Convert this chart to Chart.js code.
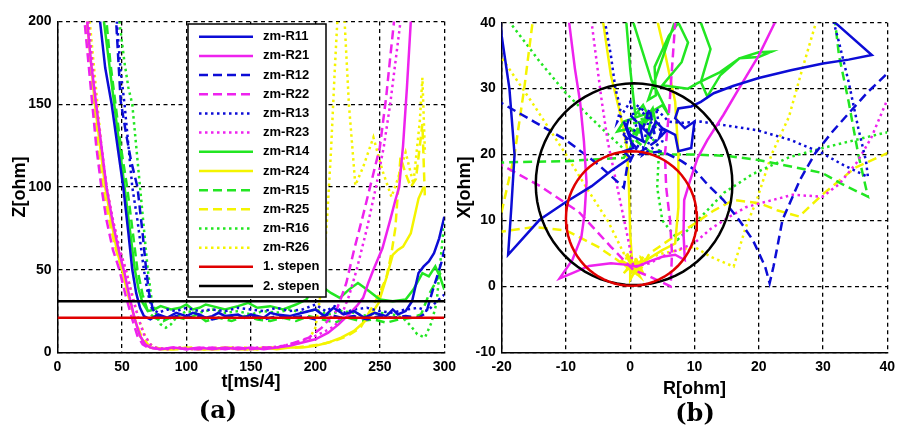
<!DOCTYPE html>
<html>
<head>
<meta charset="utf-8">
<script src="https://cdn.jsdelivr.net/npm/chart.js@4.4.1/dist/chart.umd.min.js"></script>
<style>
    html, body { margin: 0; padding: 0; background: #fff; }
    #wrap { position: relative; width: 901px; height: 426px; overflow: hidden; }
    #leftChart { position: absolute; left: 0; top: 0; }
    #rightChart { position: absolute; left: 440px; top: 0; }
    .sub { position: absolute; font-family: "DejaVu Serif", "Liberation Serif", serif; font-weight: bold; font-size: 24px; line-height: 24px; transform: translateX(-50%); color: #000; }
</style>
</head>
<body>
<div id="wrap">
    <canvas id="leftChart" width="462" height="426"></canvas>
    <canvas id="rightChart" width="461" height="426"></canvas>
    <div class="sub" style="left:218px; top:398px;">(a)</div>
    <div class="sub" style="left:695px; top:401px;">(b)</div>
</div>
<script>
// series names (legend order)
const seriesNames = ['zm-R11', 'zm-R21', 'zm-R12', 'zm-R22', 'zm-R13', 'zm-R23',
    'zm-R14', 'zm-R24', 'zm-R15', 'zm-R25', 'zm-R16', 'zm-R26'];
const stepNames = ['1. stepen', '2. stepen'];
const stepZ = [21, 31];

// axis ranges / ticks
const tTicks = [0, 300, 50];
const zTicks = [0, 200, 50];
const rTicks = [-20, 40, 10];
const xTicks = [-10, 40, 10];

// (a) impedance magnitude Z[ohm] vs t[ms/4], pairs [t, Z]
const zR11 = [[30,245],[33,200],[37,172],[42,150],[47,122],[51,100],[55,72],[58,50],[61,36],[64,27],[67,22],[72,20],[78,23],[85,21],[92,24],[100,22],[105,24],[110,23],[115,21],[120,22],[125,24],[130,22],[140,23],[145,21],[150,23],[160,21],[165,24],[170,23],[180,22],[190,24],[200,26],[207,22],[214,27],[222,23],[230,25],[238,21],[246,24],[255,22],[260,26],[264,23],[270,25],[275,31],[280,48],[284,52],[288,55],[292,60],[296,69],[300,82]];
const zR21 = [[20,250],[23,200],[26,175],[30,150],[34,125],[38,100],[43,78],[48,60],[52,48],[56,33],[60,20],[64,10],[68,5],[72,3],[80,2],[90,3],[100,2],[110,3],[120,2],[130,3],[140,2],[150,3],[160,2],[170,3],[180,4],[190,6],[200,8],[210,12],[218,17],[226,23],[232,28],[237,33],[241,42],[245,50],[252,63],[258,80],[262,92],[265,100],[268,125],[271,160],[274,200],[276,230]];
const zR12 = [[43,240],[45.5,200],[49,152],[53,133],[57,116],[62,100],[66,72],[68.5,52],[71,36],[74,26],[78,22],[85,20],[92,22],[100,21],[110,22],[120,20],[130,22],[140,21],[150,22],[160,20],[170,22],[180,21],[190,22],[200,20],[210,23],[220,21],[230,22],[240,20],[250,22],[260,21],[270,22],[280,21],[286,24],[290,35],[294,45],[298,55],[300,62]];
const zR22 = [[18,240],[21,200],[24,175],[27,150],[30,125],[34,100],[38,80],[43,62],[48,50],[53,34],[58,20],[62,10],[66,5],[70,3],[80,2],[90,3],[100,2],[110,2],[120,3],[130,2],[140,3],[150,2],[160,3],[170,3],[180,5],[188,7],[195,9],[205,15],[216,25],[220,33],[224,42],[230,62],[237,83],[244,105],[250,124],[255,155],[258,178],[261,200],[263,225]];
const zR13 = [[44,240],[46,200],[49,170],[52,150],[55,125],[58,100],[62,80],[65,62],[67,50],[70,36],[73,27],[78,24],[85,26],[92,25],[100,27],[110,25],[120,26],[130,25],[140,27],[150,26],[160,25],[170,27],[180,25],[190,26],[200,29],[208,25],[215,28],[222,24],[230,26],[240,27],[250,25],[260,24],[270,26],[280,27],[287,25],[293,30],[300,35]];
const zR23 = [[21,240],[24,200],[27,175],[30,150],[34,125],[38,100],[43,80],[48,63],[53,50],[58,34],[63,20],[67,11],[72,5],[76,3],[85,2],[95,3],[105,2],[115,3],[125,2],[135,3],[145,2],[155,3],[165,3],[175,4],[185,6],[193,8],[200,10],[208,13],[215,16],[220,22],[226,34],[232,50],[240,75],[247,100],[253,124],[258,150],[262,175],[266,200],[268,225]];
const zR14 = [[33,240],[36,200],[40,175],[44,150],[48,125],[52,100],[56,75],[60,50],[63,38],[66,30],[70,25],[75,26],[80,28],[88,26],[95,27],[100,29],[105,26],[110,27],[115,29],[120,28],[130,26],[140,28],[148,30],[155,27],[165,28],[175,26],[185,29],[193,32],[200,41],[205,40],[212,36],[219,33],[226,38],[233,42],[240,38],[250,32],[260,31],[270,32],[276,38],[283,48],[288,46],[293,52],[297,45],[300,38]];
const zR24 = [[20,240],[23,200],[26,175],[29,150],[33,125],[37,100],[42,78],[46,62],[50,50],[55,34],[60,20],[64,10],[68,5],[72,3],[80,2],[90,2],[100,3],[110,2],[120,2],[130,3],[140,2],[150,2],[160,3],[170,2],[180,3],[190,3],[200,4],[210,6],[220,9],[230,13],[240,20],[245,25],[249,30],[255,45],[260,59],[264,62],[268,64],[274,72],[280,93],[284,100]];
const zR15 = [[35,240],[38,200],[41,175],[45,150],[49,125],[54,100],[58,75],[62,50],[66,35],[70,25],[75,21],[82,19],[90,22],[100,20],[108,23],[115,19],[125,21],[135,19],[145,22],[155,20],[165,19],[175,21],[185,19],[195,22],[205,20],[215,18],[225,21],[235,19],[245,20],[255,18],[265,20],[275,21],[282,23],[288,35],[293,42],[297,48],[300,50]];
const zR25 = [[19,240],[22,200],[25,175],[28,150],[31,125],[35,100],[40,80],[45,63],[50,50],[55,35],[60,20],[65,10],[70,5],[74,3],[85,2],[95,2],[105,3],[115,2],[125,2],[135,3],[145,2],[155,2],[165,3],[175,3],[185,3],[195,4],[205,5],[215,7],[225,10],[235,15],[240,22],[248,33],[255,45],[259,60],[262,75],[266,118],[270,108],[274,100],[278,105],[283,138],[285,92]];
const zR16 = [[45,240],[48,200],[52,175],[55,160],[58,150],[61,125],[64,100],[67,75],[70,50],[73,32],[77,22],[80,17],[84,15],[88,17],[93,22],[100,25],[110,24],[120,26],[130,24],[140,25],[150,23],[160,25],[170,24],[180,26],[190,24],[200,26],[210,23],[220,25],[230,24],[240,22],[250,24],[260,23],[268,21],[274,16],[279,11],[285,9],[290,18],[294,30],[297,55],[300,80]];
const zR26 = [[22,240],[25,200],[28,175],[31,150],[34,125],[38,100],[43,80],[48,63],[53,50],[58,35],[63,20],[68,10],[72,5],[76,3],[85,2],[95,3],[105,2],[115,2],[125,3],[135,2],[145,3],[155,2],[165,3],[175,3],[185,5],[195,8],[200,15],[205,40],[209,80],[212,120],[215,170],[217,200],[222,210],[226,150],[231,101],[237,112],[245,130],[252,110],[259,94],[264,105],[270,121],[276,102],[281,140],[283,166],[285,120]];

// (b) trajectories in the R-X plane, pairs [R, X]
const rxR11 = [[31.5,43],[31.9,40],[37.6,35.1],[34,34.4],[30,33.8],[25,32.8],[20,31.6],[16,30.4],[13,29.3],[11,28],[9.5,27.3],[7.5,27],[7,25.5],[8.5,24],[10,25],[9.5,21],[7.5,20.5],[7,23],[5,24],[4.5,22.5],[5.5,23.5],[4,25],[3,23],[1.5,24.5],[2,22],[0,23],[-1,25],[0.5,21],[-1,20.5],[0,19.5],[-3,17.5],[-6,15.2],[-10,12.8],[-14.1,10.1],[-19,4.8],[-18.5,12],[-18,20],[-18.8,30],[-20,38],[-20.5,43]];
const rxR21 = [[-9.7,44],[-9.5,40],[-8.6,33],[-7.8,28],[-7.2,22],[-6.8,15.8],[-7.1,11],[-7.6,7.5],[-9,4],[-11,1.2],[-9,2],[-6.4,3.1],[-3,3.5],[-0.8,3.3],[1,3],[3,3.8],[5,4.5],[7,4.8],[8.5,4],[8.3,8],[8.4,13.1],[9.3,16],[10.5,19.5],[12,22.2],[14.5,26],[17.1,30.3],[20,35],[22.5,40],[23.5,42]];
const rxR12 = [[-21,28.3],[-20,27.8],[-15,25],[-10,22.2],[-5,18.5],[-1,15],[-0.5,18],[1,21],[-1,23],[0,26],[2,24],[3,27],[4,22],[1,20],[5,20.5],[8,19],[10,17.7],[12,15.5],[14.5,13.1],[17,10],[19.1,7],[21,3],[21.7,0.5],[22.3,3],[23,6.5],[23.7,10.1],[25,13],[26.5,16.3],[28.8,20.2],[31.5,23.5],[34.5,26.8],[37,29.5],[40,32.3],[41,33.2]];
const rxR22 = [[-21,19],[-20,18.4],[-14,15.2],[-8,11.3],[-3,6],[-1,4],[0.5,2.5],[3,1.5],[6.3,0],[6.5,5],[6.2,10],[5.6,15],[5.4,20],[6,26],[6.5,33],[7,40],[7.2,44]];
const rxR13 = [[-4.3,44],[-3.9,40],[-3,35],[-2.3,30],[-1.5,27],[-2,25],[0,28],[1,24],[-1,22],[2,21],[3,26],[1,27.5],[4,24],[2,20],[5,22],[4,27],[6,25],[7.9,24.8],[10.9,25],[15,24.4],[19.7,23.7],[25,22.2],[29.9,20.2],[33,18.5],[37,16.6],[36.7,19],[35.5,24],[34,31],[32.5,37],[31.7,40],[31.3,43]];
const rxR23 = [[-6.3,44],[-6,40],[-4.5,28.6],[-3.5,22],[-2,15],[-0.5,8],[0.5,3],[3,3.5],[6,5],[9.9,6.5],[12.5,8.7],[15.5,10.6],[18,12],[20.2,12.6],[25.3,13.9],[29.9,13.6],[32.5,15.5],[35.2,18.7],[37.5,22.5],[40,28.3],[41,30]];
const rxR14 = [[-0.6,44],[-0.6,40],[0,33],[0.8,26],[2,27.5],[3,25.5],[1.5,24],[3.5,27],[4,24.5],[2.5,22],[3.5,26.5],[-1,25],[-2,23.5],[0,24],[1,23],[2.5,26],[5,27.5],[6,26],[3.3,31.3],[0.5,40],[1,43],[6.9,40],[2.8,28.3],[4,29],[3.8,33.3],[6,38],[7.5,40],[9,37],[8,34],[5,30.5],[9,30],[10.4,30.8],[14,32.5],[17,34.6],[20,35.5],[22,35.6],[20,34.8],[17,34.6],[14,32],[12,28.8],[11,31],[12.5,36],[11,40],[13,44]];
const rxR24 = [[-4.4,44],[-4.2,40],[-3,32],[-1.5,26],[-0.5,21],[-0.2,15],[0,8],[0.3,3.5],[-1,2],[1,4],[2,2],[-1.5,4],[1.5,1.5],[-0.5,5],[1,2],[2,4.5],[0,1],[0,3],[2.5,4],[5,5.5],[7,6.5],[7.5,12],[7.5,20],[7,28],[5.5,35],[4.3,40],[4,44]];
const rxR15 = [[-21,19],[-20,18.8],[-15,18.9],[-10,19],[-5,19.3],[-1,19.5],[0,21],[1,23.5],[-1,24.5],[2,25],[1,22],[3,20.5],[6,20],[10,20],[15,19.8],[19.7,19.2],[25,18.2],[29.9,17.2],[33,15.5],[37,13.6],[35.5,20],[34,28],[32.5,35],[31.9,40],[31.7,43]];
const rxR25 = [[-14.9,44],[-15.2,40],[-16.5,30],[-18,20],[-20.2,10.5],[-21,9],[-20,8.3],[-15,9],[-10,8.5],[-5,6],[-2,4],[0,2.5],[1.5,3.5],[-0.5,4.5],[1,1.5],[3,5],[6,7],[10,9.5],[13,11.5],[16.1,13.1],[20.2,12.6],[23,11.5],[26.3,10.6],[30,14],[35,18],[40,20.2],[41,20.5]];
const rxR16 = [[-19,44],[-18.7,40],[-14,34],[-10,29.3],[-5,24.5],[-1.4,21.2],[0,22.5],[2,25],[1,27],[3,23],[4.5,21],[4.2,15],[5,10],[7.4,7.1],[10,9.5],[14.6,14.2],[19,17],[24.8,19.6],[30,21],[35,22.2],[39.6,23.3],[41,23.5]];
const rxR26 = [[-21,36],[-20.3,35.1],[-15,27.5],[-10,20],[-6.5,14.5],[-3.4,9.8],[-1,5],[0.5,2],[-1,3],[1.5,4.5],[2,4],[5,5],[10,6],[12.5,4.5],[16.1,3],[18,9],[19.7,13.1],[22,20],[24.7,25.7],[26.5,32],[28.9,40],[29.5,44]];

// protection zone circles: centre R, centre X, radius
const circleR0 = [0.2, 0.6];
const circleX0 = [10.3, 15.5];
const circleRad = [10.2, 15.3];

const zData = [zR11, zR21, zR12, zR22, zR13, zR23, zR14, zR24, zR15, zR25, zR16, zR26];
const rxData = [rxR11, rxR21, rxR12, rxR22, rxR13, rxR23, rxR14, rxR24, rxR15, rxR25, rxR16, rxR26];

// stilovi linija
const BLUE = '#0c0cd6', MAG = '#ee22ee', GRN = '#22e622', YEL = '#f4f400';
const DASHES = { solid: [], dash: [9, 5], dot: [2.5, 3.5] };
const styles = [[BLUE, 'solid'], [MAG, 'solid'], [BLUE, 'dash'], [MAG, 'dash'], [BLUE, 'dot'], [MAG, 'dot'],
    [GRN, 'solid'], [YEL, 'solid'], [GRN, 'dash'], [YEL, 'dash'], [GRN, 'dot'], [YEL, 'dot']];
const stepColors = ['#e00000', '#000000'];

Chart.defaults.font.family = '"Liberation Sans", Arial, sans-serif';
Chart.defaults.font.weight = 'bold';
Chart.defaults.font.size = 14;
Chart.defaults.color = '#000';

const toPts = arr => arr.map(p => ({ x: p[0], y: p[1] }));

const lineDs = (label, pts, color, dash, order) => ({
    label: label,
    data: pts,
    borderColor: color,
    backgroundColor: color,
    borderDash: dash,
    borderWidth: 2.5,
    pointRadius: 0,
    fill: false,
    tension: 0,
    order: order
});

// osa sa fiksnom sirinom/visinom
const axis = (range, fitSize, title, titlePad) => ({
    type: 'linear',
    min: range[0],
    max: range[1],
    ticks: { stepSize: range[2], padding: 6, font: { size: 14, weight: 'bold' }, color: '#000' },
    grid: { color: '#000', lineWidth: 1.3, drawTicks: false },
    border: { display: true, color: '#000', width: 1.5, dash: [4, 3.5] },
    title: { display: true, text: title, color: '#000', font: { size: 18, weight: 'bold' }, padding: titlePad },
    afterFit: (scale) => {
        if (scale.isHorizontal()) scale.height = fitSize;
        else scale.width = fitSize;
    }
});

// legenda u okviru
const boxLegend = {
    id: 'boxLegend',
    afterDatasetsDraw(chart, args, opts) {
        if (!opts.show) return;
        const ctx = chart.ctx;
        const items = chart.data.datasets;
        ctx.save();
        ctx.fillStyle = '#fff';
        ctx.fillRect(opts.left, opts.top, opts.width, opts.height);
        ctx.strokeStyle = '#000';
        ctx.lineWidth = 1.5;
        ctx.setLineDash([]);
        ctx.strokeRect(opts.left, opts.top, opts.width, opts.height);
        items.forEach((ds, i) => {
            const y = opts.top + opts.first + i * opts.rowH;
            ctx.setLineDash(ds.borderDash || []);
            ctx.strokeStyle = ds.borderColor;
            ctx.lineWidth = ds.borderWidth;
            ctx.beginPath();
            ctx.moveTo(opts.left + 11, y);
            ctx.lineTo(opts.left + 65, y);
            ctx.stroke();
            ctx.setLineDash([]);
            ctx.fillStyle = '#000';
            ctx.font = 'bold 13px "Liberation Sans", Arial, sans-serif';
            ctx.textBaseline = 'middle';
            ctx.fillText(ds.label, opts.left + 75, y);
        });
        ctx.restore();
    }
};

// (a)
const leftSets = seriesNames.map((n, i) => lineDs(n, toPts(zData[i]), styles[i][0], DASHES[styles[i][1]], 1));
stepNames.forEach((n, i) => {
    leftSets.push(lineDs(n, [{ x: tTicks[0], y: stepZ[i] }, { x: tTicks[1], y: stepZ[i] }], stepColors[i], [], 0));
});

new Chart(document.getElementById('leftChart'), {
    type: 'line',
    data: { datasets: leftSets },
    options: {
        responsive: false,
        animation: false,
        events: [],
        layout: { padding: { top: 21.5, right: 13.5, left: 0, bottom: 0 } },
        scales: {
            x: axis(tTicks, 73.5, 't[ms/4]', { top: 0, bottom: 33 }),
            y: axis(zTicks, 57.5, 'Z[ohm]', { top: 9, bottom: 0 })
        },
        plugins: {
            legend: { display: false },
            tooltip: { enabled: false },
            boxLegend: { show: true, left: 188, top: 24, width: 138, height: 273, first: 12.7, rowH: 19.18 }
        }
    },
    plugins: [boxLegend]
});

// (b)
const rightSets = seriesNames.map((n, i) => lineDs(n, toPts(rxData[i]), styles[i][0], DASHES[styles[i][1]], 1));
const circlePts = (i) => {
    const pts = [];
    for (let a = 0; a <= 360; a += 5) {
        const r = a * Math.PI / 180;
        pts.push({ x: circleR0[i] + circleRad[i] * Math.cos(r), y: circleX0[i] + circleRad[i] * Math.sin(r) });
    }
    return pts;
};
stepNames.forEach((n, i) => rightSets.push(lineDs(n, circlePts(i), stepColors[i], [], 0)));

new Chart(document.getElementById('rightChart'), {
    type: 'line',
    data: { datasets: rightSets },
    options: {
        responsive: false,
        animation: false,
        events: [],
        layout: { padding: { top: 22.7, right: 8.3, left: 0, bottom: 0 } },
        scales: {
            x: axis(rTicks, 73.7, 'R[ohm]', { top: 0, bottom: 26 }),
            y: axis(xTicks, 61.7, 'X[ohm]', { top: 14.7, bottom: 0 })
        },
        plugins: {
            legend: { display: false },
            tooltip: { enabled: false },
            boxLegend: { show: false }
        }
    },
    plugins: [boxLegend]
});
</script>
</body>
</html>
